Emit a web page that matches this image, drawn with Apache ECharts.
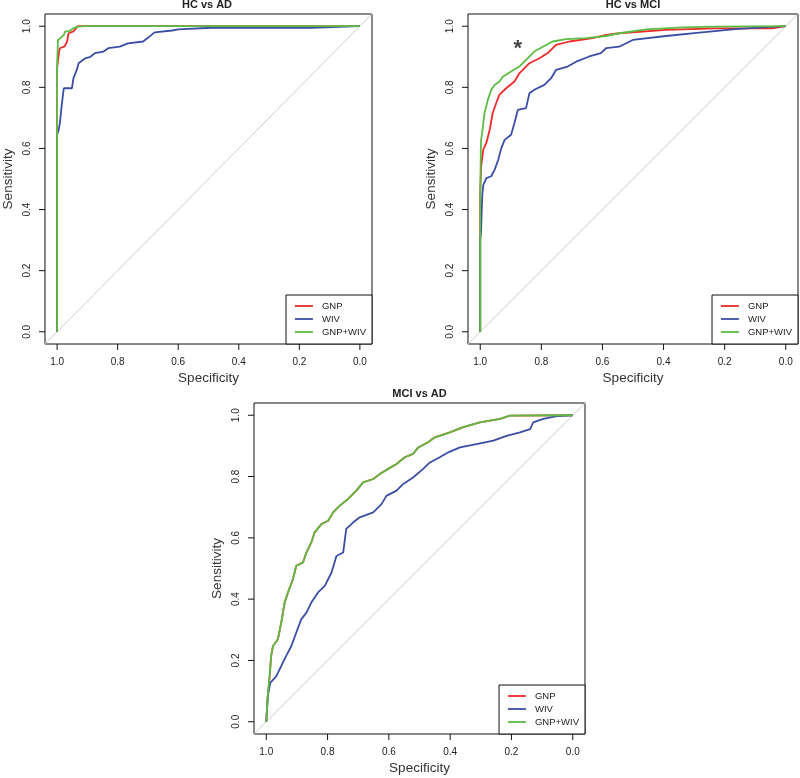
<!DOCTYPE html>
<html>
<head>
<meta charset="utf-8">
<script src="https://cdn.jsdelivr.net/npm/echarts@6/dist/echarts.min.js"></script>
<style>
  html, body { margin: 0; padding: 0; background: #fff; }
  #chart { width: 800px; height: 778px; }
</style>
</head>
<body>
<div id="chart"></div>
<script>
const chart = echarts.init(document.getElementById('chart'));

// panel titles and legend entries
const panelTitles = ['HC vs AD', 'HC vs MCI', 'MCI vs AD'];
const seriesNames = ['GNP', 'WIV', 'GNP+WIV'];
const tickValues = [0, 0.2, 0.4, 0.6, 0.8, 1.0];

// [specificity, sensitivity]
const hcAdGnp = [[1,0],[1,0.863],[0.998,0.868],[0.993,0.92],[0.991,0.928],[0.975,0.934],[0.967,0.95],[0.962,0.977],[0.946,0.983],[0.94,0.99],[0.932,1],[0,1]];
const hcAdWiv = [[1,0],[1,0.645],[0.995,0.66],[0.991,0.683],[0.987,0.72],[0.984,0.748],[0.978,0.797],[0.951,0.797],[0.946,0.83],[0.935,0.857],[0.929,0.879],[0.907,0.895],[0.89,0.9],[0.875,0.912],[0.847,0.917],[0.831,0.928],[0.793,0.933],[0.766,0.944],[0.716,0.95],[0.70,0.962],[0.678,0.98],[0.62,0.986],[0.6,0.99],[0.49,0.995],[0.16,0.995],[0.16,1],[0,1]];
const hcAdBoth = [[1,0],[1,0.879],[0.997,0.955],[0.989,0.961],[0.978,0.972],[0.973,0.983],[0.962,0.983],[0.946,0.993],[0.935,0.998],[0.913,1],[0,1]];

const hcMciGnp = [[1,0],[1,0.454],[0.997,0.541],[0.99,0.596],[0.98,0.618],[0.969,0.661],[0.959,0.716],[0.948,0.748],[0.937,0.776],[0.915,0.797],[0.888,0.819],[0.872,0.846],[0.839,0.879],[0.806,0.895],[0.779,0.912],[0.752,0.939],[0.708,0.95],[0.632,0.961],[0.588,0.972],[0.545,0.977],[0.392,0.988],[0.229,0.993],[0.044,0.993],[0,1]];
const hcMciWiv = [[1,0],[1,0.3],[0.997,0.33],[0.995,0.4],[0.993,0.45],[0.99,0.48],[0.98,0.503],[0.964,0.509],[0.953,0.53],[0.941,0.563],[0.931,0.601],[0.92,0.628],[0.899,0.645],[0.888,0.683],[0.877,0.726],[0.85,0.732],[0.839,0.781],[0.823,0.792],[0.79,0.808],[0.768,0.83],[0.752,0.857],[0.714,0.868],[0.686,0.884],[0.643,0.901],[0.605,0.912],[0.588,0.928],[0.545,0.933],[0.501,0.955],[0.392,0.968],[0.283,0.979],[0.174,0.99],[0.065,0.997],[0,1]];
const hcMciBoth = [[1,0],[1,0.45],[0.998,0.6],[0.997,0.628],[0.991,0.672],[0.986,0.716],[0.975,0.759],[0.964,0.792],[0.953,0.808],[0.937,0.819],[0.926,0.835],[0.899,0.852],[0.872,0.868],[0.85,0.89],[0.823,0.917],[0.795,0.933],[0.763,0.95],[0.719,0.958],[0.654,0.961],[0.588,0.968],[0.545,0.977],[0.457,0.99],[0.338,0.996],[0.229,0.999],[0,1]];

const mciAdGnp = [[1,0],[0.995,0.084],[0.989,0.149],[0.984,0.215],[0.978,0.247],[0.962,0.269],[0.951,0.324],[0.94,0.389],[0.929,0.422],[0.913,0.465],[0.902,0.509],[0.88,0.52],[0.869,0.552],[0.853,0.585],[0.842,0.618],[0.82,0.645],[0.798,0.656],[0.782,0.683],[0.76,0.705],[0.733,0.727],[0.706,0.754],[0.684,0.781],[0.651,0.792],[0.63,0.808],[0.602,0.825],[0.575,0.841],[0.548,0.863],[0.521,0.874],[0.504,0.895],[0.472,0.912],[0.45,0.928],[0.401,0.944],[0.357,0.961],[0.303,0.977],[0.237,0.988],[0.205,0.999],[0,1]];
const mciAdWiv = [[1,0],[0.995,0.084],[0.987,0.127],[0.967,0.149],[0.951,0.182],[0.935,0.215],[0.918,0.247],[0.902,0.291],[0.886,0.334],[0.869,0.356],[0.853,0.389],[0.831,0.422],[0.809,0.443],[0.787,0.487],[0.771,0.541],[0.749,0.552],[0.739,0.629],[0.717,0.65],[0.695,0.667],[0.651,0.683],[0.624,0.71],[0.608,0.737],[0.575,0.754],[0.553,0.776],[0.521,0.797],[0.488,0.825],[0.466,0.846],[0.434,0.863],[0.406,0.879],[0.368,0.895],[0.314,0.906],[0.259,0.917],[0.216,0.933],[0.172,0.944],[0.139,0.955],[0.129,0.977],[0.096,0.988],[0.052,0.997],[0,1]];
const mciAdBoth = [[1,0],[0.995,0.084],[0.989,0.149],[0.984,0.215],[0.978,0.247],[0.962,0.269],[0.951,0.324],[0.94,0.389],[0.929,0.422],[0.913,0.465],[0.902,0.509],[0.88,0.52],[0.869,0.552],[0.853,0.585],[0.842,0.618],[0.82,0.645],[0.798,0.656],[0.782,0.683],[0.76,0.705],[0.733,0.727],[0.706,0.754],[0.684,0.781],[0.651,0.792],[0.63,0.808],[0.602,0.825],[0.575,0.841],[0.548,0.863],[0.521,0.874],[0.504,0.895],[0.472,0.912],[0.45,0.928],[0.401,0.944],[0.357,0.961],[0.303,0.977],[0.237,0.988],[0.205,0.999],[0,1]];

// chance line and significance mark
const chanceLine = [[1.04, -0.04], [-0.04, 1.04]];
const starPoint = [[0.877, 0.94]];

const curves = [
    [hcAdGnp, hcAdWiv, hcAdBoth],
    [hcMciGnp, hcMciWiv, hcMciBoth],
    [mciAdGnp, mciAdWiv, mciAdBoth]
];
const lineColors = ['#ee2a2a', '#3b4ea6', '#5cbc44'];

// plot boxes (left, top, size)
const boxes = [
    { left: 42, top: 14, size: 330 },
    { left: 468, top: 14, size: 330 },
    { left: 254, top: 403, size: 331 }
];

const AXIS_MIN = -0.04, AXIS_MAX = 1.04, TICK_LEN = 6;
const font = '"Liberation Sans", Arial, Helvetica, sans-serif';

function oneDecimal(v) {
    return Number(v).toFixed(1);
}

// outward tick marks on the bottom and left edges, placed through the axis scales
function renderTicks(params, api) {
    const v = api.value(0);
    const bottom = api.coord([v, AXIS_MIN]);
    const left = api.coord([AXIS_MAX, v]);
    const style = { stroke: '#111', lineWidth: 1 };
    return {
        type: 'group',
        children: [
            { type: 'line', shape: { x1: bottom[0], y1: bottom[1], x2: bottom[0], y2: bottom[1] + TICK_LEN }, style: style },
            { type: 'line', shape: { x1: left[0], y1: left[1], x2: left[0] - TICK_LEN, y2: left[1] }, style: style }
        ]
    };
}

const grids = [], xAxes = [], yAxes = [], titles = [], legends = [], series = [];

boxes.forEach((b, i) => {
    grids.push({
        left: b.left, top: b.top, width: b.size, height: b.size,
        show: true, borderColor: '#111', borderWidth: 1, backgroundColor: 'transparent'
    });
    xAxes.push({
        gridIndex: i, type: 'value', min: AXIS_MIN, max: AXIS_MAX, inverse: true, position: 'bottom',
        name: 'Specificity', nameLocation: 'middle', nameGap: 27,
        nameTextStyle: { fontFamily: font, fontSize: 13.5, color: '#333' },
        axisLine: { show: false, onZero: false },
        axisTick: { show: false },
        axisLabel: {
            customValues: tickValues, margin: 13, fontFamily: font, fontSize: 10, color: '#222',
            formatter: oneDecimal
        },
        splitLine: { show: false }
    });
    yAxes.push({
        gridIndex: i, type: 'value', min: AXIS_MIN, max: AXIS_MAX, position: 'left',
        name: 'Sensitivity', nameLocation: 'middle', nameGap: 30,
        nameTextStyle: { fontFamily: font, fontSize: 13.5, color: '#333' },
        axisLine: { show: false, onZero: false },
        axisTick: { show: false },
        axisLabel: {
            customValues: tickValues, margin: 13, rotate: 90, fontFamily: font, fontSize: 10, color: '#222',
            formatter: oneDecimal
        },
        splitLine: { show: false }
    });
    titles.push({
        text: panelTitles[i],
        left: b.left + b.size / 2, textAlign: 'center', top: b.top - 15,
        padding: 0,
        textStyle: { fontFamily: font, fontSize: 11, fontWeight: 'bold', color: '#222' }
    });
    legends.push({
        data: seriesNames,
        orient: 'vertical',
        right: 800 - (b.left + b.size), bottom: 778 - (b.top + b.size),
        padding: [6, 6, 7, 8],
        itemWidth: 18, itemHeight: 10, itemGap: 3,
        itemStyle: { opacity: 0 },
        lineStyle: { width: 1.8 },
        borderColor: '#111', borderWidth: 1, borderRadius: 0,
        backgroundColor: '#fff',
        selectedMode: false,
        textStyle: { fontFamily: font, fontSize: 9.5, color: '#222', lineHeight: 10, padding: [0, 0, 0, 4] }
    });
    series.push({
        type: 'custom', xAxisIndex: i, yAxisIndex: i, clip: false, silent: true,
        data: tickValues.map(v => [v, v]),
        renderItem: renderTicks
    });
    series.push({
        type: 'line', xAxisIndex: i, yAxisIndex: i, data: chanceLine,
        symbol: 'none', silent: true, z: 1,
        lineStyle: { color: '#cccccc', width: 1 }
    });
    curves[i].forEach((d, k) => {
        series.push({
            name: seriesNames[k], type: 'line', xAxisIndex: i, yAxisIndex: i,
            data: d, symbol: 'none', z: 2 + k,
            color: lineColors[k],
            lineStyle: { color: lineColors[k], width: 1.8 }
        });
    });
});

series.push({
    type: 'scatter', xAxisIndex: 1, yAxisIndex: 1, data: starPoint,
    symbolSize: 0, silent: true,
    label: {
        show: true, position: 'inside', formatter: '*',
        fontFamily: font, fontSize: 22, fontWeight: 'bold', color: '#111', offset: [0, 4]
    }
});

chart.setOption({
    animation: false,
    backgroundColor: '#fff',
    title: titles,
    legend: legends,
    grid: grids,
    xAxis: xAxes,
    yAxis: yAxes,
    series: series
});

window.addEventListener('resize', () => chart.resize());
</script>
</body>
</html>
